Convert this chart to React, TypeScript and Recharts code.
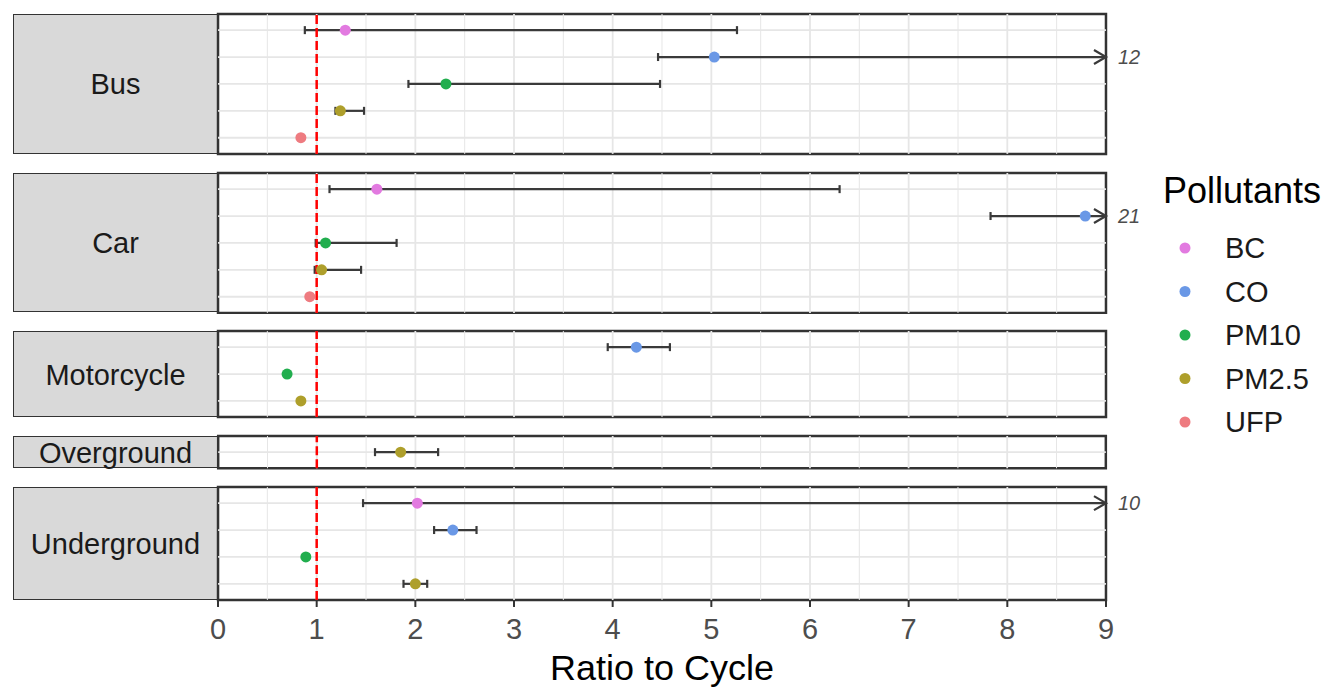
import React from "react";
import {
  ScatterChart,
  Scatter,
  XAxis,
  YAxis,
  ReferenceLine,
  ReferenceArea,
} from "recharts";

// Pollutants in legend order, with their colours
const pollutants = ["BC", "CO", "PM10", "PM2.5", "UFP"];
const pollutantColors = ["#E27AE0", "#6A98E6", "#21AE4E", "#AE9F2B", "#EE7B80"];

// Transport modes (one facet each)
const modes = ["Bus", "Car", "Motorcycle", "Overground", "Underground"];

// Bus
const busPollutants = ["BC", "CO", "PM10", "PM2.5", "UFP"];
const busRatio = [1.29, 5.03, 2.31, 1.24, 0.84];
const busLower = [0.88, 4.46, 1.93, 1.19, null];
const busUpper = [5.26, 12, 4.48, 1.48, null];

// Car
const carPollutants = ["BC", "CO", "PM10", "PM2.5", "UFP"];
const carRatio = [1.61, 8.79, 1.09, 1.05, 0.93];
const carLower = [1.13, 7.83, 0.99, 0.98, null];
const carUpper = [6.3, 21, 1.81, 1.45, null];

// Motorcycle
const motoPollutants = ["CO", "PM10", "PM2.5"];
const motoRatio = [4.24, 0.7, 0.84];
const motoLower = [3.95, null, null];
const motoUpper = [4.58, null, null];

// Overground
const overPollutants = ["PM2.5"];
const overRatio = [1.85];
const overLower = [1.59];
const overUpper = [2.23];

// Underground
const underPollutants = ["BC", "CO", "PM10", "PM2.5"];
const underRatio = [2.02, 2.38, 0.89, 2.0];
const underLower = [1.47, 2.19, null, 1.88];
const underUpper = [10, 2.62, null, 2.12];

const xTicks = [0, 1, 2, 3, 4, 5, 6, 7, 8, 9];
const xMinorTicks = [0.5, 1.5, 2.5, 3.5, 4.5, 5.5, 6.5, 7.5, 8.5];
const xMax = 9;
const cycleRatio = 1;

const facets = [
  { name: modes[0], pollutants: busPollutants, ratio: busRatio, lower: busLower, upper: busUpper },
  { name: modes[1], pollutants: carPollutants, ratio: carRatio, lower: carLower, upper: carUpper },
  { name: modes[2], pollutants: motoPollutants, ratio: motoRatio, lower: motoLower, upper: motoUpper },
  { name: modes[3], pollutants: overPollutants, ratio: overRatio, lower: overLower, upper: overUpper },
  { name: modes[4], pollutants: underPollutants, ratio: underRatio, lower: underLower, upper: underUpper },
];

// layout
const UNIT = 26.9;
const GAP = 18.7;
const TOP = 14;
const PANEL_LEFT = 218;
const PANEL_W = 888;
const STRIP_LEFT = 13;
const PAD = 2;
const LEFT_PAD = 20;
const LABEL_ROOM = 60;
const AXIS_H = 87;
const ERR = "#3A3A3A";
const GRID = "#E6E6E6";
const FONT = "'Liberation Sans', Arial, Helvetica, sans-serif";

const colorOf = (p: string) => pollutantColors[pollutants.indexOf(p)];

// horizontal error bar with caps, or an arrow + label when it runs off the axis
function ErrorBarShape(props: any) {
  const { x1, y1, x2, y2, arrow, label } = props;
  if (x1 == null || x2 == null) return null;
  const cap = 4;
  return (
    <g>
      <line x1={x1} y1={y1} x2={x2} y2={y2} stroke={ERR} strokeWidth={2.2} />
      <line x1={x1} y1={y1 - cap} x2={x1} y2={y1 + cap} stroke={ERR} strokeWidth={2.2} />
      {arrow ? (
        <>
          <polyline
            points={`${x2 - 12},${y2 - 7} ${x2},${y2} ${x2 - 12},${y2 + 7}`}
            fill="none"
            stroke={ERR}
            strokeWidth={2.2}
          />
          <text
            x={x2 + 12}
            y={y2}
            dy="0.36em"
            fontSize={20}
            fontStyle="italic"
            fill="#4D4D4D"
            fontFamily={FONT}
          >
            {label}
          </text>
        </>
      ) : (
        <line x1={x2} y1={y2 - cap} x2={x2} y2={y2 + cap} stroke={ERR} strokeWidth={2.2} />
      )}
    </g>
  );
}

function Facet({ facet, top, showAxis }: any) {
  const n = facet.pollutants.length;
  const panelH = (n + 0.2) * UNIT;
  const axisH = showAxis ? AXIS_H : 0;
  const rows = facet.pollutants.map((p: string, i: number) => ({
    pollutant: p,
    x: facet.ratio[i],
    y: i,
    color: colorOf(p),
  }));

  return (
    <>
      <div
        style={{
          position: "absolute",
          left: STRIP_LEFT,
          top,
          width: PANEL_LEFT - STRIP_LEFT,
          height: panelH,
          background: "#D9D9D9",
          border: "1.5px solid #333333",
          boxSizing: "border-box",
          display: "flex",
          alignItems: "center",
          justifyContent: "center",
          fontSize: 29,
          lineHeight: 1,
          color: "#1A1A1A",
          fontFamily: FONT,
          paddingTop: 2,
        }}
      >
        {facet.name}
      </div>
      <div style={{ position: "absolute", left: PANEL_LEFT - LEFT_PAD, top: top - PAD }}>
        <ScatterChart
          width={PANEL_W + LEFT_PAD + LABEL_ROOM}
          height={panelH + 2 * PAD + axisH}
          margin={{ top: PAD, right: LABEL_ROOM, bottom: PAD, left: LEFT_PAD }}
        >
          <XAxis
            type="number"
            dataKey="x"
            domain={[0, xMax]}
            ticks={xTicks}
            interval={0}
            allowDataOverflow
            hide={!showAxis}
            height={axisH}
            axisLine={false}
            tickSize={7}
            tickMargin={11}
            tickLine={{ stroke: "#333333", strokeWidth: 2 }}
            tick={{ fontSize: 29, fill: "#4D4D4D", fontFamily: FONT }}
            label={
              showAxis
                ? {
                    value: "Ratio to Cycle",
                    position: "insideBottom",
                    offset: 9 - PAD,
                    fontSize: 36,
                    fill: "#000000",
                    fontFamily: FONT,
                  }
                : undefined
            }
          />
          <YAxis
            type="number"
            dataKey="y"
            domain={[-0.6, n - 0.4]}
            reversed
            allowDataOverflow
            hide
          />

          {/* minor and major grid (edges are covered by the panel border) */}
          {xMinorTicks.map((v) => (
            <ReferenceLine key={`mi${v}`} x={v} stroke={GRID} strokeWidth={1} />
          ))}
          {xTicks
            .filter((v) => v > 0 && v < xMax)
            .map((v) => (
              <ReferenceLine key={`ma${v}`} x={v} stroke={GRID} strokeWidth={1.8} />
            ))}
          {rows.map((r: any) => (
            <ReferenceLine key={`h${r.y}`} y={r.y} stroke={GRID} strokeWidth={1.8} />
          ))}

          {/* error bars */}
          {facet.pollutants.map((p: string, i: number) => {
            const lo = facet.lower[i];
            const hi = facet.upper[i];
            if (lo == null || hi == null) return null;
            const arrow = hi > xMax;
            const hiPlot = Math.min(hi, xMax);
            return (
              <ReferenceLine
                key={`e${p}`}
                segment={[
                  { x: lo, y: i },
                  { x: hiPlot, y: i },
                ]}
                shape={(sp: any) => (
                  <ErrorBarShape {...sp} arrow={arrow} label={String(hi)} />
                )}
              />
            );
          })}

          {/* cycle reference */}
          <ReferenceLine
            x={cycleRatio}
            stroke="#FF0000"
            strokeWidth={2.5}
            strokeDasharray="9 4"
          />

          <Scatter
            data={rows}
            isAnimationActive={false}
            shape={(sp: any) => (
              <circle cx={sp.cx} cy={sp.cy} r={5.5} fill={sp.payload.color} />
            )}
          />

          {/* panel border */}
          <ReferenceArea
            x1={0}
            x2={xMax}
            y1={-0.6}
            y2={n - 0.4}
            fill="none"
            fillOpacity={0}
            stroke="#333333"
            strokeWidth={2.5}
          />
        </ScatterChart>
      </div>
    </>
  );
}

function Legend() {
  return (
    <svg
      width={201}
      height={290}
      style={{ position: "absolute", left: 1130, top: 170 }}
      fontFamily={FONT}
    >
      <text x={33} y={33} fontSize={36} fill="#000000">
        Pollutants
      </text>
      {pollutants.map((p, i) => {
        const cy = 78 + i * 43.5;
        return (
          <g key={p}>
            <circle cx={55} cy={cy} r={5.5} fill={pollutantColors[i]} />
            <text x={95} y={cy} dy="0.36em" fontSize={29} fill="#1A1A1A">
              {p}
            </text>
          </g>
        );
      })}
    </svg>
  );
}

export default function App() {
  let y = TOP;
  const tops = facets.map((f) => {
    const t = y;
    y += (f.pollutants.length + 0.2) * UNIT + GAP;
    return t;
  });

  return (
    <div
      style={{
        position: "absolute",
        left: 0,
        top: 0,
        width: 1331,
        height: 687,
        background: "#FFFFFF",
        fontFamily: FONT,
        overflow: "hidden",
      }}
    >
      {facets.map((f, i) => (
        <Facet
          key={f.name}
          facet={f}
          top={tops[i]}
          showAxis={i === facets.length - 1}
        />
      ))}
      <Legend />
    </div>
  );
}
